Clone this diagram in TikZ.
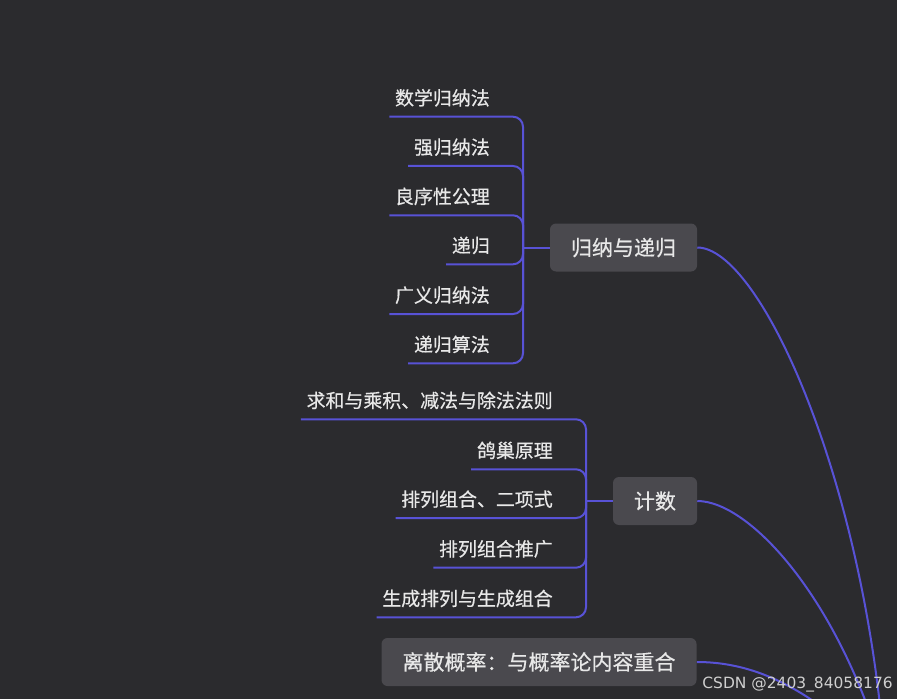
\documentclass[tikz,border=0pt]{standalone}
\usepackage{fontspec}
\setmainfont{Noto Sans CJK SC}[FakeBold=0.5]
\newfontfamily\wmfont{DejaVu Sans}
\definecolor{bg}{HTML}{2B2B2E}
\definecolor{boxc}{HTML}{4A494E}
\definecolor{linec}{HTML}{5852D6}
\definecolor{txt}{HTML}{E8E8E8}
\definecolor{wm}{HTML}{CFCFCF}
\begin{document}
\begin{tikzpicture}[x=0.75pt,y=-0.75pt,
 topic/.style={fill=boxc, rounded corners=4.5pt, text=txt,
   font=\fontsize{15.75pt}{18pt}\selectfont, minimum height=36pt,
   inner xsep=15.75pt, inner ysep=0pt, text height=13.86pt, text depth=1.89pt},
 leaf/.style={text=txt, font=\fontsize{14.2pt}{17pt}\selectfont, anchor=south east,
   inner xsep=4.125pt, inner ysep=5.55pt, text height=11pt, text depth=3pt},
 conn/.style={draw=linec, line width=1.5pt},
 brace/.style={conn, rounded corners=7.5pt}]
\useasboundingbox (0,0) rectangle (897,699);
\fill[bg] (0,0) rectangle (897,699);
\clip (0,0) rectangle (897,699);

% topics
\node[topic] (t1) at (623.5,247.5) {归纳与递归};
\node[topic] (t2) at (655,501) {计数};
\node[topic] (t3) at (539,662) {离散概率：与概率论内容重合};

\coordinate (b1) at (523,247.5);
\coordinate (b2) at (586,501);
\coordinate (root) at (885,760);

% group 1
\node[leaf] (a1) at (495.5,116.7) {数学归纳法};
\node[leaf] (a2) at (495.5,166) {强归纳法};
\node[leaf] (a3) at (495.5,215.3) {良序性公理};
\node[leaf] (a4) at (495.5,264.3) {递归};
\node[leaf] (a5) at (495.5,314) {广义归纳法};
\node[leaf] (a6) at (495.5,363.3) {递归算法};

% group 2
\node[leaf] (c1) at (558.5,419.3) {求和与乘积、减法与除法法则};
\node[leaf] (c2) at (558.5,469.3) {鸽巢原理};
\node[leaf] (c3) at (558.5,518) {排列组合、二项式};
\node[leaf] (c4) at (558.5,567.7) {排列组合推广};
\node[leaf] (c5) at (558.5,617.3) {生成排列与生成组合};

\foreach \n in {a1,a2,a3,a4,a5,a6} \draw[brace] (\n.south west) -| (b1);
\draw[conn] (b1) -- (t1.west);
\foreach \n in {c1,c2,c3,c4,c5} \draw[brace] (\n.south west) -| (b2);
\draw[conn] (b2) -- (t2.west);

% curves to root
\draw[conn] (t1.east) .. controls (760,247.5) and (865,480) .. (root);
\draw[conn] (t2.east) .. controls (750,501) and (840,600) .. (root);
\draw[conn] (t3.east) .. controls (775,662) and (830,710) .. (root);

\node[anchor=base east, inner sep=0pt, text=wm,
  font=\wmfont\fontsize{11.6pt}{14pt}\selectfont] (wmk) at (893,688.7) {CSDN @2403\_84058176};
\end{tikzpicture}
\end{document}
